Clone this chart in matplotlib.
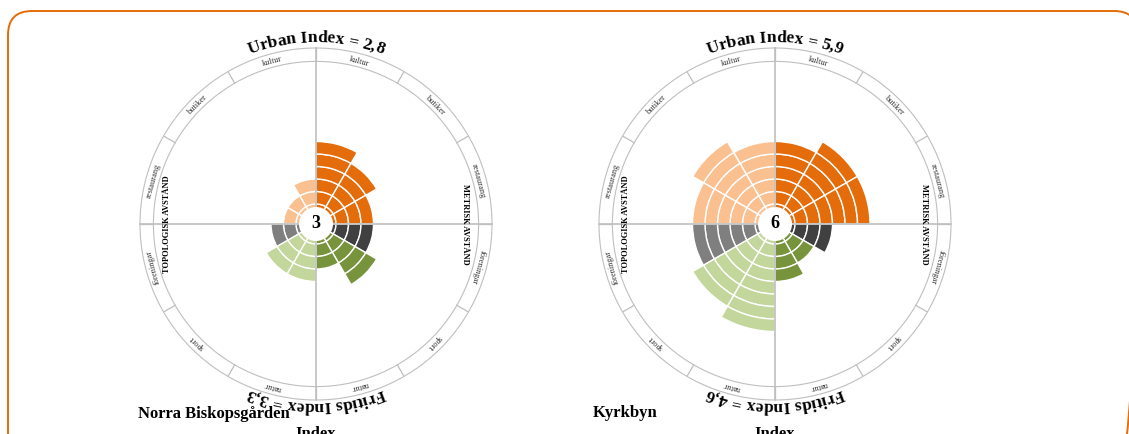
import numpy as np
import matplotlib
matplotlib.use("Agg")
import matplotlib.pyplot as plt
from matplotlib.patches import FancyBboxPatch, Circle
from matplotlib.font_manager import FontProperties

plt.rcParams['font.family'] = ['Liberation Serif', 'DejaVu Serif']

# data (rings per sector, clockwise from the top)
categories = ["kultur", "butiker", "restaurang", "föreningar", "sport", "natur"]
names = ["Norra Biskopsgården", "Kyrkbyn"]
center_values = ["3", "6"]
urban_index = ["2,8", "5,9"]
fritids_index = ["3,3", "4,6"]
metric_nb = [6, 5, 4, 4, 5, 3]
topo_nb = [3, 2, 2, 3, 4, 4]
metric_kb = [6, 7, 7, 4, 3, 4]
topo_kb = [6, 7, 6, 6, 7, 8]

metric_colors = ["#E46C0A", "#E46C0A", "#E46C0A", "#404040", "#77933C", "#77933C"]
topo_colors = ["#FAC090", "#FAC090", "#FAC090", "#7F7F7F", "#C3D69B", "#C3D69B"]

W, H = 1129, 434
PX = 12.5      # pixels per ring
R0 = 0.6       # radial origin offset
RMAX = 13.48   # outer circle
GRAY = "#BFBFBF"


def r_of(px):
    return px / PX - R0


fig = plt.figure(figsize=(W / 100, H / 100), dpi=100)
renderer = fig.canvas.get_renderer()

bg = fig.add_axes([0, 0, 1, 1])
bg.set_xlim(0, W)
bg.set_ylim(H, 0)
bg.axis('off')
bg.add_patch(FancyBboxPatch((8, 11), 1130, 470, boxstyle="round,pad=0,rounding_size=24",
                            ec="#E46C0A", fc="none", lw=1.4))


def arc_text(ax, s, center_deg, r_px, size):
    fp = FontProperties(family='Liberation Serif', weight='bold', size=size)

    def width(t):
        return renderer.get_text_width_height_descent(t, fp, ismath=False)[0]

    total = width(s)
    for i, ch in enumerate(s):
        if ch == ' ':
            continue
        pos = width(s[:i + 1]) - width(ch) / 2 - total / 2
        ang = center_deg + np.degrees(pos / r_px)
        ax.text(np.radians(ang), r_of(r_px), ch, rotation=-ang, rotation_mode='anchor',
                ha='center', va='baseline', fontproperties=fp, clip_on=False, zorder=6)


charts = [(316, metric_nb, topo_nb), (775, metric_kb, topo_kb)]
cy = 224

for n, (cx, metric, topo) in enumerate(charts):
    ax = fig.add_axes([(cx - 176) / W, (H - cy - 176) / H, 352 / W, 352 / H], projection='polar')
    ax.set_theta_zero_location('N')
    ax.set_theta_direction(-1)
    ax.set_ylim(0, RMAX)
    ax.set_rorigin(-R0)
    ax.grid(False)
    ax.set_xticks([])
    ax.set_yticks([])
    ax.patch.set_alpha(0)
    ax.spines['polar'].set_color(GRAY)
    ax.spines['polar'].set_linewidth(0.8)
    ax.spines['inner'].set_visible(False)

    # stacked rings
    for i in range(6):
        for vals, cols, ang in [(metric, metric_colors, 15 + 30 * i), (topo, topo_colors, 345 - 30 * i)]:
            for k in range(vals[i]):
                ax.bar(np.radians(ang), 1, width=np.pi / 6, bottom=k, color=cols[i],
                       edgecolor='white', linewidth=1.0, zorder=2)

    # label ring
    th = np.linspace(0, 2 * np.pi, 400)
    ax.plot(th, np.full_like(th, r_of(162.6)), color=GRAY, lw=0.8)
    for a in range(0, 360, 30):
        ax.plot([np.radians(a)] * 2, [r_of(162.6), RMAX], color=GRAY, lw=0.9)
    ax.plot([0.5, 0.5], [0, 1], transform=ax.transAxes, color=GRAY, lw=1.2, zorder=3, clip_on=False)
    ax.plot([0, 1], [0.5, 0.5], transform=ax.transAxes, color=GRAY, lw=1.2, zorder=3, clip_on=False)

    for i, cat in enumerate(categories):
        for ang in [15 + 30 * i, 345 - 30 * i]:
            ax.text(np.radians(ang), r_of(168), cat, rotation=-ang, rotation_mode='anchor',
                    ha='center', va='center', fontsize=6, color='#333333')

    ax.text(np.radians(90), r_of(149), "METRISK AVSTÅND", rotation=-90, rotation_mode='anchor',
            ha='center', va='center', fontsize=6, fontweight='bold')
    ax.text(np.radians(270), r_of(149), "TOPOLOGISK AVSTÅND", rotation=90, rotation_mode='anchor',
            ha='center', va='center', fontsize=6, fontweight='bold')

    ax.add_patch(Circle((0.5, 0.5), 17 / 352, transform=ax.transAxes, fc='white', ec='none',
                        zorder=4, clip_on=False))
    ax.text(0.5, 0.5, center_values[n], transform=ax.transAxes, ha='center', va='center',
            fontsize=13, fontweight='bold', zorder=5, clip_on=False)

    arc_text(ax, "Urban Index = " + urban_index[n], 0, 182, 12.5)
    arc_text(ax, "Fritids Index = " + fritids_index[n], 180, 178, 12.5)

    fig.text(cx / W, 1 - 426 / H, "Index", ha='center', va='top', fontsize=12, fontweight='bold')

fig.text(138 / W, 1 - 414 / H, names[0], ha='left', va='center', fontsize=12, fontweight='bold')
fig.text(593 / W, 1 - 413 / H, names[1], ha='left', va='center', fontsize=12, fontweight='bold')

fig.savefig("out.png", dpi=100)
